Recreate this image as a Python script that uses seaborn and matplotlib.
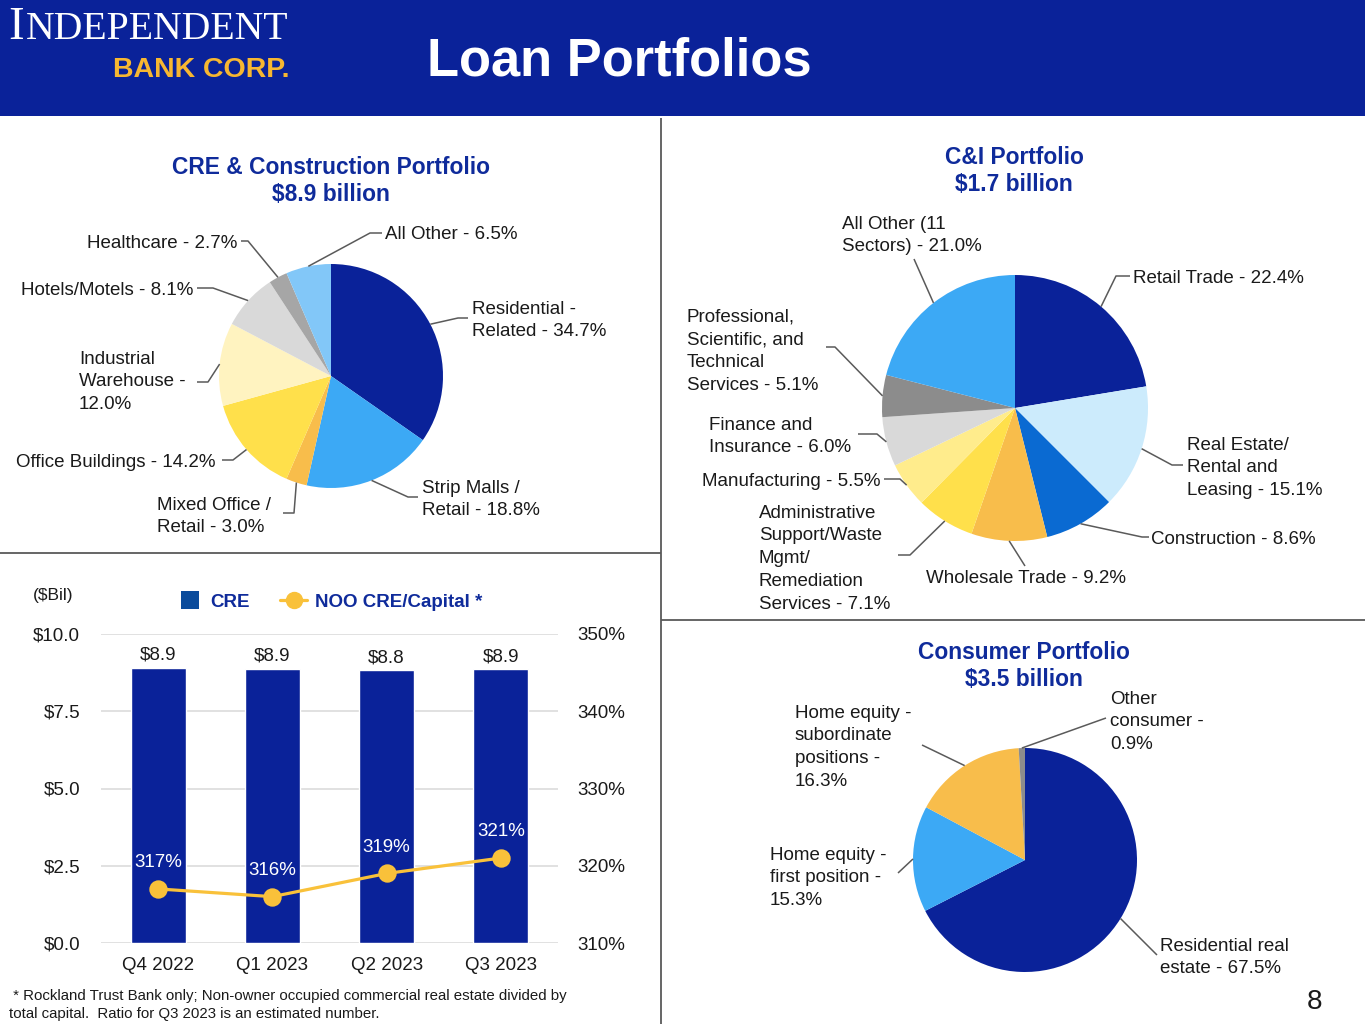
import numpy as np
import pandas as pd
import matplotlib
matplotlib.use("Agg")
import matplotlib.pyplot as plt
import seaborn as sns
from matplotlib.patches import Rectangle
from matplotlib.lines import Line2D

# ---------------- data ----------------
cre_templates = ["Residential -\nRelated - {:.1f}%", "Strip Malls /\nRetail - {:.1f}%",
                 "Mixed Office /\nRetail - {:.1f}%", "Office Buildings - {:.1f}%",
                 "Industrial\nWarehouse -\n{:.1f}%", "Hotels/Motels - {:.1f}%",
                 "Healthcare - {:.1f}%", "All Other - {:.1f}%"]
cre_shares = [34.7, 18.8, 3.0, 14.2, 12.0, 8.1, 2.7, 6.5]

ci_templates = ["Retail Trade - {:.1f}%", "Real Estate/\nRental and\nLeasing - {:.1f}%",
                "Construction - {:.1f}%", "Wholesale Trade - {:.1f}%",
                "Administrative\nSupport/Waste\nMgmt/\nRemediation\nServices - {:.1f}%",
                "Manufacturing - {:.1f}%", "Finance and\nInsurance - {:.1f}%",
                "Professional,\nScientific, and\nTechnical\nServices - {:.1f}%",
                "All Other (11\nSectors) - {:.1f}%"]
ci_shares = [22.4, 15.1, 8.6, 9.2, 7.1, 5.5, 6.0, 5.1, 21.0]

cons_templates = ["Residential real\nestate - {:.1f}%", "Home equity -\nfirst position -\n{:.1f}%",
                  "Home equity -\nsubordinate\npositions -\n{:.1f}%", "Other\nconsumer -\n{:.1f}%"]
cons_shares = [67.5, 15.3, 16.3, 0.9]

quarters = ["Q4 2022", "Q1 2023", "Q2 2023", "Q3 2023"]
cre_bil = [8.91, 8.87, 8.82, 8.86]
noo_ratio = [317, 316, 319, 321]
left_ticks = [0.0, 2.5, 5.0, 7.5, 10.0]
right_ticks = [310, 320, 330, 340, 350]

# ---------------- style ----------------
NAVY = "#0A2299"
TITLE = "#0F2B9B"
GOLD = "#F9C13A"
TXT = "#1A1A1A"
LEAD = "#5A5A5A"

sns.set_theme(style="white")
plt.rcParams["font.family"] = ["Liberation Sans", "DejaVu Sans"]

W, H = 1365, 1024
fig = plt.figure(figsize=(W / 100, H / 100), dpi=100)


def fx(x):
    return x / W


def fy(y):
    return 1 - y / H


def txt(x, y, s, ha="left", size=13.5, color=TXT, weight="normal", lh=22.7, family=None):
    """y is the visual centre of the first line (pixels from top)."""
    off = 0.358 * size * 100 / 72
    for i, line in enumerate(s.split("\n")):
        kw = {}
        if family:
            kw["family"] = family
        fig.text(fx(x), fy(y + i * lh + off), line, ha=ha, va="baseline",
                 fontsize=size, color=color, fontweight=weight, **kw)


def seg(points, color=LEAD, lw=1.1):
    fig.add_artist(Line2D([fx(p[0]) for p in points], [fy(p[1]) for p in points],
                          transform=fig.transFigure, color=color, lw=lw,
                          solid_capstyle="butt"))


def draw_pie(cx, cy, r, shares, colors):
    ax = fig.add_axes([fx(cx - r), fy(cy + r), 2 * r / W, 2 * r / H])
    wedges, _ = ax.pie(shares, colors=colors, startangle=90, counterclock=False,
                       radius=1, wedgeprops=dict(linewidth=0))
    ax.set_xlim(-1, 1)
    ax.set_ylim(-1, 1)
    ax.set_aspect("equal")
    ax.axis("off")
    anchors = []
    for w in wedges:
        a = np.deg2rad((w.theta1 + w.theta2) / 2)
        anchors.append((cx + r * np.cos(a), cy - r * np.sin(a)))
    return anchors


# ---------------- header ----------------
fig.add_artist(Rectangle((0, fy(116)), 1, 116 / H, transform=fig.transFigure,
                         color=NAVY, lw=0))
fig.text(fx(8), fy(39), "I", fontsize=33.8, color="white", family="Liberation Serif",
         va="baseline")
fig.text(fx(26), fy(39), "NDEPENDENT", fontsize=28.6, color="white",
         family="Liberation Serif", va="baseline")
fig.text(fx(113), fy(77), "BANK CORP.", fontsize=20.5, color="#F7B731",
         fontweight="bold", va="baseline")
fig.text(fx(427), fy(76), "Loan Portfolios", fontsize=37.8, color="white",
         fontweight="bold", va="baseline")

# dividers
seg([(661, 118), (661, 1024)], color="#595959", lw=1.3)
seg([(0, 553), (661, 553)], color="#595959", lw=1.3)
seg([(661, 620), (1365, 620)], color="#595959", lw=1.3)

# ---------------- CRE pie ----------------
txt(331, 166, "CRE & Construction Portfolio\n$8.9 billion", ha="center", size=16.4,
    color=TITLE, weight="bold", lh=27)
cre_colors = ["#0A2299", "#3CA9F5", "#F8BD4B", "#FFE04B", "#FFF3C0", "#D9D9D9",
              "#A6A6A6", "#82C7F8"]
anc = draw_pie(331, 376, 112, cre_shares, cre_colors)
cre_layout = [  # text x, text y, ha, leader points
    (472, 307, "left", [(458, 318), (468, 318)]),
    (422, 486, "left", [(408, 497), (418, 497)]),
    (157, 503, "left", [(294, 513), (283, 513)]),
    (216, 460, "right", [(233, 460), (222, 460)]),
    (79, 357, "left", [(208, 382), (197, 382)]),
    (193, 288, "right", [(213, 288), (197, 288)]),
    (237, 241, "right", [(248, 241), (241, 241)]),
    (385, 232, "left", [(370, 233), (382, 233)]),
]
for tmpl, v, a, (tx, ty, ha, pts) in zip(cre_templates, cre_shares, anc, cre_layout):
    seg([a] + pts)
    txt(tx, ty, tmpl.format(v), ha=ha)

# ---------------- C&I pie ----------------
txt(1014, 156, "C&I Portfolio\n$1.7 billion", ha="center", size=16.4,
    color=TITLE, weight="bold", lh=27)
ci_colors = ["#0A2299", "#CCEBFC", "#0A6AD2", "#F8BD4B", "#FFE04B", "#FFEC8C",
             "#D9D9D9", "#8C8C8C", "#3CA9F5"]
anc = draw_pie(1015, 408, 133, ci_shares, ci_colors)
ci_layout = [
    (1133, 276, "left", [(1116, 276), (1130, 276)]),
    (1187, 443, "left", [(1172, 465), (1183, 465)]),
    (1151, 537, "left", [(1142, 537), (1149, 537)]),
    (926, 576, "left", [(1025, 566)]),
    (759, 511, "left", [(910, 555), (898, 555)]),
    (880, 479, "right", [(900, 479), (884, 479)]),
    (709, 423, "left", [(877, 434), (858, 434)]),
    (687, 315, "left", [(835, 347), (826, 347)]),
    (842, 222, "left", [(914, 259)]),
]
for tmpl, v, a, (tx, ty, ha, pts) in zip(ci_templates, ci_shares, anc, ci_layout):
    seg([a] + pts)
    txt(tx, ty, tmpl.format(v), ha=ha)

# ---------------- Consumer pie ----------------
txt(1024, 651, "Consumer Portfolio\n$3.5 billion", ha="center", size=16.4,
    color=TITLE, weight="bold", lh=27)
cons_colors = ["#0A2299", "#3CA9F5", "#F8BD4B", "#8C8C8C"]
anc = draw_pie(1025, 860, 112, cons_shares, cons_colors)
cons_layout = [
    (1160, 944, "left", [(1157, 955)]),
    (770, 853, "left", [(898, 873)]),
    (795, 711, "left", [(922, 745)]),
    (1110, 697, "left", [(1106, 718)]),
]
for tmpl, v, a, (tx, ty, ha, pts) in zip(cons_templates, cons_shares, anc, cons_layout):
    seg([a] + pts)
    txt(tx, ty, tmpl.format(v), ha=ha)

# ---------------- bar + line chart ----------------
df = pd.DataFrame({"quarter": quarters, "cre": cre_bil, "ratio": noo_ratio})
ax = fig.add_axes([fx(101), fy(943), (558 - 101) / W, (943 - 634) / H])
sns.barplot(data=df, x="quarter", y="cre", color=NAVY, saturation=1, width=0.48,
            ax=ax, zorder=2)
ax.set_ylim(0, 10)
ax.set_xlim(-0.5, 3.5)
ax.set_yticks(left_ticks)
ax.set_yticklabels([f"${v:.1f}" for v in left_ticks])
ax.grid(axis="y", color="#DCDCDC", lw=1.2)
ax.grid(axis="x", visible=False)
ax.set_axisbelow(True)
for s in ax.spines.values():
    s.set_visible(False)
ax.tick_params(axis="y", length=0, labelsize=13.5, pad=15, labelcolor=TXT)
ax.tick_params(axis="x", length=0, labelsize=13.5, pad=10, labelcolor=TXT)
ax.set_xlabel("")
ax.set_ylabel("")
ax.bar_label(ax.containers[0], labels=[f"${v:.1f}" for v in cre_bil], padding=3,
             fontsize=13.5, color=TXT)

ax2 = ax.twinx()
sns.pointplot(data=df, x="quarter", y="ratio", color=GOLD, errorbar=None,
              markersize=11.5, linewidth=2.3, ax=ax2)
ax2.set_ylim(310, 350)
ax2.set_xlim(-0.5, 3.5)
ax2.set_yticks(right_ticks)
ax2.set_yticklabels([f"{v}%" for v in right_ticks])
ax2.tick_params(axis="y", length=0, labelsize=13.5, pad=14, labelcolor=TXT)
ax2.set_ylabel("")
ax2.grid(False)
for s in ax2.spines.values():
    s.set_visible(False)
for i, v in enumerate(noo_ratio):
    ax2.annotate(f"{v}%", (i, v), xytext=(0, 19), textcoords="offset points",
                 ha="center", va="center", color="white", fontsize=13.5)

# legend and unit label
txt(33, 594, "($Bil)", size=12.5)
fig.add_artist(Rectangle((fx(181), fy(609)), 18 / W, 18 / H, transform=fig.transFigure,
                         color="#0B4C9C", lw=0))
txt(210, 600, "CRE", size=13.5, color=TITLE, weight="bold")
fig.add_artist(Line2D([fx(280), fx(307)], [fy(600), fy(600)], transform=fig.transFigure,
                      color=GOLD, lw=2.3))
fig.add_artist(Line2D([fx(293.5)], [fy(600)], transform=fig.transFigure, color=GOLD,
                      marker="o", markersize=11.5, lw=0))
txt(315, 600, "NOO CRE/Capital *", size=13.5, color=TITLE, weight="bold")

# footnote and page number
txt(9, 995, " * Rockland Trust Bank only; Non-owner occupied commercial real estate divided by\n"
    "total capital.  Ratio for Q3 2023 is an estimated number.", size=10.8, lh=18)
txt(1315, 999, "8", ha="center", size=20)

fig.savefig("out.png", dpi=100, facecolor="white")
